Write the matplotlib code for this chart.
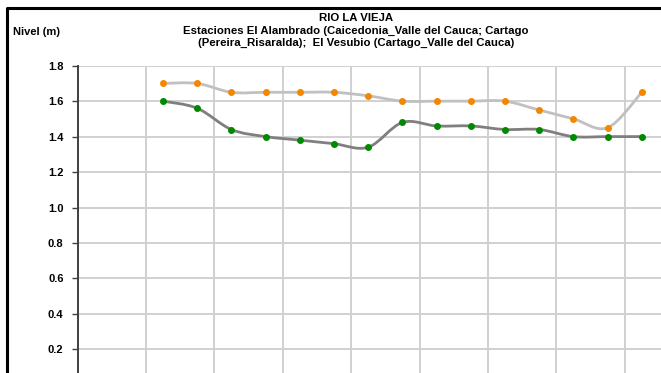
import numpy as np
import matplotlib
matplotlib.use("Agg")
import matplotlib.pyplot as plt
from matplotlib.path import Path
from matplotlib.patches import PathPatch
from matplotlib.lines import Line2D

plt.rcParams['font.family'] = ['Liberation Sans', 'DejaVu Sans']

# Data
x_pos = [2.5, 3.5, 4.5, 5.5, 6.5, 7.5, 8.5, 9.5, 10.5, 11.5, 12.5, 13.5, 14.5, 15.5, 16.5]
serie_alambrado = [1.70, 1.70, 1.65, 1.65, 1.65, 1.65, 1.63, 1.60, 1.60, 1.60, 1.60, 1.55, 1.50, 1.45, 1.65]
serie_vesubio = [1.60, 1.56, 1.44, 1.40, 1.38, 1.36, 1.34, 1.48, 1.46, 1.46, 1.44, 1.44, 1.40, 1.40, 1.40]
y_ticks = [0.2, 0.4, 0.6, 0.8, 1.0, 1.2, 1.4, 1.6, 1.8]
title_lines = ["RIO LA VIEJA",
               "Estaciones El Alambrado (Caicedonia_Valle del Cauca; Cartago",
               "(Pereira_Risaralda);  El Vesubio (Cartago_Valle del Cauca)"]
y_label = "Nivel (m)"

W, H = 661, 373
fig = plt.figure(figsize=(W / 100, H / 100), dpi=100)

# axes geometry (extends beyond figure bottom/right as in the cropped reference)
left_px, top_px = 77.5, 65.7
unit_x = 34.2
unit_y = 35.45 / 0.2
xmax = 18
ax_w = xmax * unit_x
ax_h = 1.8 * unit_y
ax = fig.add_axes([left_px / W, 1 - (top_px + ax_h) / H, ax_w / W, ax_h / H])
ax.set_xlim(0, xmax)
ax.set_ylim(0, 1.8)

ax.set_yticks(y_ticks)
ax.set_yticklabels([f"{v:.1f}" for v in y_ticks], fontsize=8, fontweight='bold')
ax.set_xticks(np.arange(0, xmax + 1, 2))
ax.tick_params(axis='x', length=0, labelbottom=False)
ax.tick_params(axis='y', length=4, width=1, color='#404040', pad=6)
ax.grid(True, color='#d0d0d0', linewidth=1.4)
ax.set_axisbelow(True)
for s in ['top', 'right', 'bottom']:
    ax.spines[s].set_visible(False)
ax.spines['left'].set_color('#404040')
ax.spines['left'].set_linewidth(1.4)


def smooth_path(xs, ys):
    pts = np.column_stack([xs, ys])
    n = len(pts)
    verts = [pts[0]]
    codes = [Path.MOVETO]
    for i in range(n - 1):
        p0 = pts[i - 1] if i > 0 else pts[i]
        p1 = pts[i]
        p2 = pts[i + 1]
        p3 = pts[i + 2] if i + 2 < n else pts[i + 1]
        c1 = p1 + (p2 - p0) / 6.0
        c2 = p2 - (p3 - p1) / 6.0
        verts += [c1, c2, p2]
        codes += [Path.CURVE4] * 3
    return Path(verts, codes)


for ys, lc, mc in [(serie_alambrado, '#c0c0c0', '#f28705'),
                   (serie_vesubio, '#7f7f7f', '#008a00')]:
    patch = PathPatch(smooth_path(x_pos, ys), facecolor='none', edgecolor=lc,
                      linewidth=2.0, capstyle='round', joinstyle='round', zorder=3)
    ax.add_patch(patch)
    ax.plot(x_pos, ys, linestyle='none', marker='o', markersize=4,
            markerfacecolor=mc, markeredgecolor=mc, zorder=4)

# Title and y label
cx = 356 / W
for i, (line, yy) in enumerate(zip(title_lines, [18, 30.5, 42.5])):
    fig.text(cx, 1 - yy / H, line, ha='center', va='center', fontsize=8.2,
             fontweight='bold')
fig.text(13 / W, 1 - 32 / H, y_label, ha='left', va='center', fontsize=8,
         fontweight='bold')

# Outer chart frame (left and top edges visible)
fx, fy = 6.5 / W, 1 - 8 / H
fig.add_artist(Line2D([fx, fx, 1.01], [-0.01, fy, fy], color='black',
                      linewidth=2.2, transform=fig.transFigure))

fig.savefig("out.png", dpi=100)
